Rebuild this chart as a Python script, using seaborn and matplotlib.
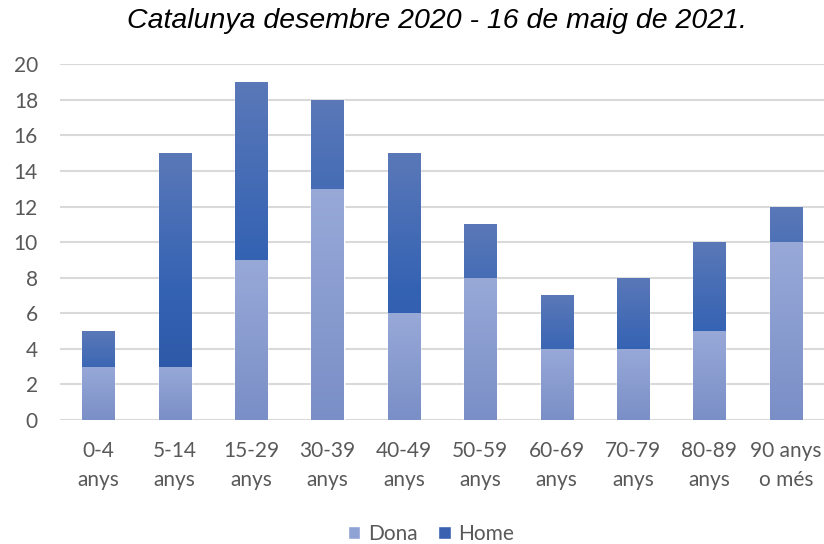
"""Casos per edat i sexe - barres apilades"""

import numpy as np
import pandas as pd
import matplotlib.pyplot as plt
import seaborn as sns
from matplotlib.patches import Patch
from matplotlib.colors import LinearSegmentedColormap

grups = ["0-4\nanys", "5-14\nanys", "15-29\nanys", "30-39\nanys", "40-49\nanys",
         "50-59\nanys", "60-69\nanys", "70-79\nanys", "80-89\nanys", "90 anys\no més"]
dona = [3, 3, 9, 13, 6, 8, 4, 4, 5, 10]
home = [2, 12, 10, 5, 9, 3, 3, 4, 5, 2]

df = pd.DataFrame({"Grup": grups, "Dona": dona, "Home": home})
df["Total"] = df["Dona"] + df["Home"]

sns.set_style("white")
plt.rcParams["font.family"] = ["Lato", "DejaVu Sans"]

fig = plt.figure(figsize=(8.24, 5.44), dpi=100)
ax = fig.add_axes([0.073, 0.228, 0.927, 0.654])

sns.barplot(data=df, x="Grup", y="Total", color="#3a62b2", width=0.42, ax=ax,
            saturation=1, zorder=3)
sns.barplot(data=df, x="Grup", y="Dona", color="#8a9ed2", width=0.42, ax=ax,
            saturation=1, zorder=3)

# degradat a l'estil Excel
cm_home = LinearSegmentedColormap.from_list("h", ["#2a53a4", "#3563b3", "#5a78b8"])
cm_dona = LinearSegmentedColormap.from_list("d", ["#7a8fc7", "#98a9d8"])
n = len(grups)
for i, patch in enumerate(ax.patches):
    cmap = cm_home if i < n else cm_dona
    x0, y0 = patch.get_x(), patch.get_y()
    w, h = patch.get_width(), patch.get_height()
    grad = np.linspace(0, 1, 100).reshape(-1, 1)
    im = ax.imshow(grad, cmap=cmap, origin="lower", aspect="auto",
                   extent=(x0, x0 + w, y0, y0 + h), zorder=3)
    im.set_clip_path(patch)

ax.set_xlim(-0.5, n - 0.5)
ax.set_ylim(0, 20)
ax.set_yticks(range(0, 21, 2))
ax.yaxis.grid(True, color="#d9d9d9", linewidth=1.5, zorder=0)
ax.set_axisbelow(True)
for s in ["top", "right", "left", "bottom"]:
    ax.spines[s].set_visible(False)
ax.set_xlabel("")
ax.set_ylabel("")
ax.tick_params(axis="both", length=0, labelsize=15, colors="#595959")
ax.tick_params(axis="x", pad=15)
ax.tick_params(axis="y", pad=16)
for lab in ax.get_xticklabels():
    lab.set_linespacing(1.6)

fig.text(0.53, 0.962, "Catalunya desembre 2020 - 16 de maig de 2021.",
         ha="center", va="center", fontsize=20.5, style="italic",
         family=["Liberation Sans", "DejaVu Sans"], color="#000000")

handles = [Patch(facecolor="#8fa2d4", label="Dona"),
           Patch(facecolor="#3a60b0", label="Home")]
fig.legend(handles=handles, loc="center", bbox_to_anchor=(0.523, 0.018), ncol=2,
           frameon=False, fontsize=15, handlelength=0.6, handleheight=0.6,
           handletextpad=0.35, columnspacing=1.0, labelcolor="#595959")

plt.savefig("out.png", dpi=100)
